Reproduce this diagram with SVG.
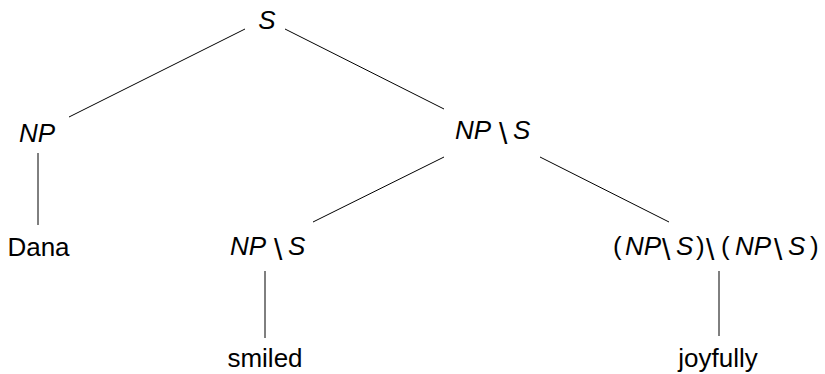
<svg xmlns="http://www.w3.org/2000/svg" width="825" height="374" viewBox="0 0 825 374">
<style>
text{font-family:"Liberation Sans",Arial,sans-serif;font-size:26px;fill:#000}
.i{font-style:italic}
.b{font-size:30px}
.w{text-anchor:middle}
#edges line{stroke:#000;stroke-width:1}
</style>
<rect width="825" height="374" fill="#fff"/>
<g id="edges">
<line x1="245" y1="29" x2="69" y2="117"/>
<line x1="285" y1="29" x2="444" y2="109"/>
<line x1="38" y1="153" x2="38" y2="225"/>
<line x1="444" y1="157" x2="313" y2="222"/>
<line x1="540" y1="157" x2="669" y2="222"/>
<line x1="265" y1="271" x2="265" y2="338"/>
<line x1="719" y1="271" x2="719" y2="336"/>
</g>
<g id="n-root"><text class="i w" x="267" y="29">S</text></g>
<g id="n-np"><text class="i" x="19" y="142">NP</text></g>
<g id="n-vp"><text><tspan class="i" x="455" y="139">NP</tspan><tspan class="b" x="499" y="144">\</tspan><tspan class="i" x="513" y="139">S</tspan></text></g>
<g id="n-dana"><text class="w" x="38.5" y="256">Dana</text></g>
<g id="n-vp2"><text><tspan class="i" x="230" y="255">NP</tspan><tspan class="b" x="274" y="260">\</tspan><tspan class="i" x="288" y="255">S</tspan></text></g>
<g id="n-adv"><text><tspan x="613" y="255">(</tspan><tspan class="i" x="625" y="255">NP</tspan><tspan class="b" x="662" y="260">\</tspan><tspan class="i" x="676" y="255">S</tspan><tspan x="696" y="255">)</tspan><tspan class="b" x="706" y="260">\</tspan><tspan x="721" y="255">(</tspan><tspan class="i" x="735" y="255">NP</tspan><tspan class="b" x="774" y="260">\</tspan><tspan class="i" x="788" y="255">S</tspan><tspan x="810" y="255">)</tspan></text></g>
<g id="n-smiled"><text class="w" x="265" y="367">smiled</text></g>
<g id="n-joyfully"><text class="w" x="718" y="367">joyfully</text></g>
</svg>
